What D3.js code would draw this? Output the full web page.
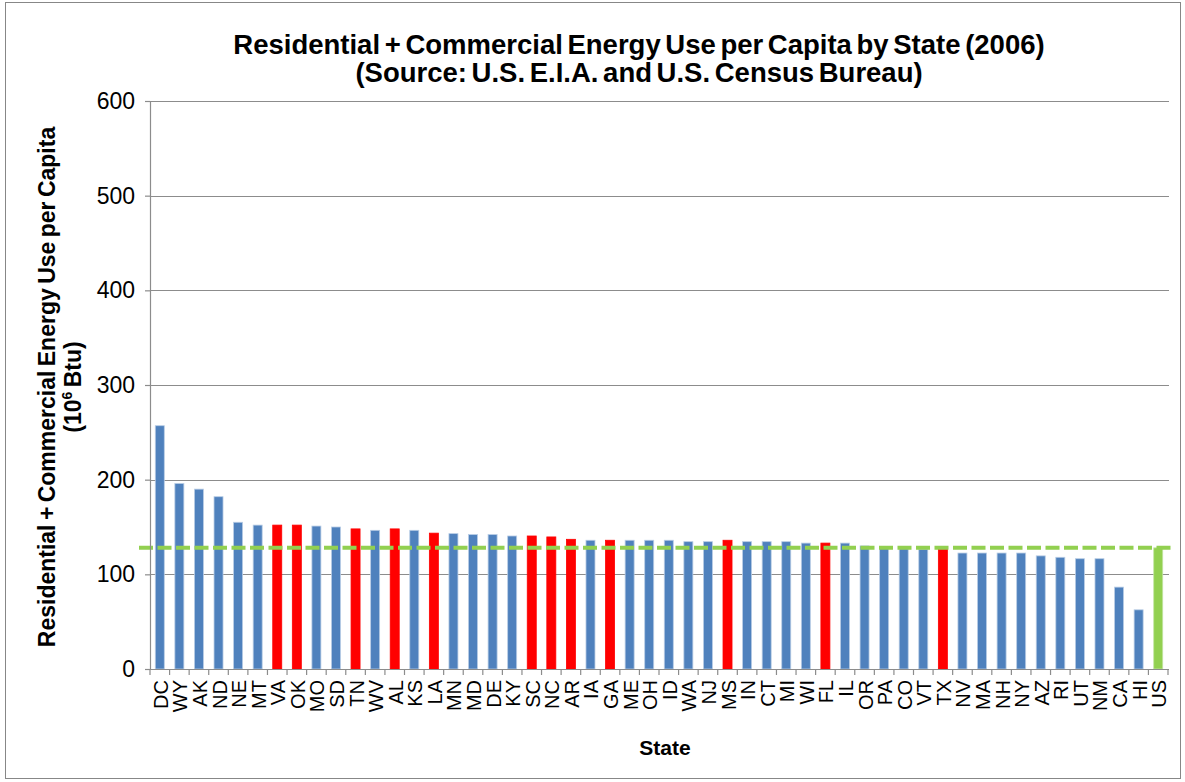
<!DOCTYPE html>
<html>
<head>
<meta charset="utf-8">
<script src="https://cdn.jsdelivr.net/npm/d3@7"></script>
<style>
  body { margin: 0; background: #fff; }
  text { font-family: Arial, "Liberation Sans", sans-serif; }
</style>
</head>
<body>
<svg id="chart" width="1185" height="782"></svg>
<script>
// states, sorted as in the source chart
var states = ["DC","WY","AK","ND","NE","MT","VA","OK","MO","SD","TN","WV","AL","KS","LA","MN","MD","DE",
  "KY","SC","NC","AR","IA","GA","ME","OH","ID","WA","NJ","MS","IN","CT","MI","WI","FL","IL","OR","PA",
  "CO","VT","TX","NV","MA","NH","NY","AZ","RI","UT","NM","CA","HI","US"];
// energy use per capita, 10^6 Btu
var values = [257,196,190,182,155,152,152,152,151,150,148,146.5,148,146.5,143.5,143,142,142,
  140.5,140.5,139.5,137,136,136,136,136,136,134.5,134.5,136,134.5,134.5,134.5,133,133,133,130,128.5,
  127,126.5,126.5,122.5,122.5,122.5,122.5,119.5,118,116.5,116.5,86.5,62.5,128];
var redStates = ["VA","OK","TN","AL","LA","SC","NC","AR","GA","MS","FL","TX"];
var usAverage = 128;
var yTicks = [0,100,200,300,400,500,600];

var margin = { top: 101, right: 17, bottom: 113, left: 150 },
    W = 1185, H = 782,
    width = W - margin.left - margin.right,
    height = H - margin.top - margin.bottom;

var svg = d3.select("#chart");

// outer frame
svg.append("rect")
  .attr("x", 5.5).attr("y", 2.5)
  .attr("width", 1175).attr("height", 776)
  .attr("fill", "none").attr("stroke", "#878787").attr("stroke-width", 1);

var g = svg.append("g").attr("transform", "translate(" + margin.left + "," + margin.top + ")");

var x = d3.scaleBand().domain(states).range([0, width]).paddingInner(0.54).paddingOuter(0.27);
var y = d3.scaleLinear().domain([0, 600]).range([height, 0]);

// gridlines
g.selectAll(".grid").data(yTicks.slice(1)).enter().append("line")
  .attr("x1", 0).attr("x2", width + 1)
  .attr("y1", function (d) { return Math.round(y(d)) + 0.5; })
  .attr("y2", function (d) { return Math.round(y(d)) + 0.5; })
  .attr("stroke", "#8c8c8c").attr("stroke-width", 1.2);

// bars
g.selectAll(".bar").data(states).enter().append("rect")
  .attr("x", function (d) { return x(d); })
  .attr("width", x.bandwidth())
  .attr("y", function (d, i) { return y(values[i]); })
  .attr("height", function (d, i) { return height - y(values[i]); })
  .attr("fill", function (d) {
    if (d == "US") return "#92d050";
    return redStates.indexOf(d) >= 0 ? "#ff0000" : "#4f81bd";
  })
  .attr("stroke", function (d) {
    if (d == "US") return "#c4e5a4";
    return redStates.indexOf(d) >= 0 ? "#ff0000" : "#b9cde5";
  })
  .attr("stroke-width", 0.8);

// US average line
g.append("line")
  .attr("x1", -11).attr("x2", width + 5)
  .attr("y1", y(usAverage)).attr("y2", y(usAverage))
  .attr("stroke", "#92d050").attr("stroke-width", 4)
  .attr("stroke-dasharray", "14,4.5");

// y axis
var yAxis = d3.axisLeft(y).tickValues(yTicks).tickSize(5).tickPadding(10);
var ya = g.append("g").call(yAxis);
ya.select(".domain").attr("stroke", "#8c8c8c").attr("stroke-width", 1.2);
ya.selectAll(".tick line").attr("stroke", "#8c8c8c").attr("stroke-width", 1.2);
ya.selectAll(".tick text").attr("font-size", 23).attr("fill", "#000")
  .attr("font-family", "Arial, 'Liberation Sans', sans-serif");

// x axis: baseline, ticks between categories
var xa = g.append("g").attr("transform", "translate(0," + height + ")");
xa.append("line").attr("x1", 0).attr("x2", width + 1).attr("y1", 0.5).attr("y2", 0.5)
  .attr("stroke", "#8c8c8c").attr("stroke-width", 1.2);
var step = x.step();
var bounds = d3.range(states.length + 1).map(function (i) { return x(states[0]) - (step - x.bandwidth()) / 2 + i * step; });
xa.selectAll(".xt").data(bounds).enter().append("line")
  .attr("x1", function (d) { return d; }).attr("x2", function (d) { return d; })
  .attr("y1", 0).attr("y2", 6)
  .attr("stroke", "#8c8c8c").attr("stroke-width", 1.2);
xa.selectAll(".xl").data(states).enter().append("text")
  .attr("transform", function (d) {
    return "translate(" + (x(d) + x.bandwidth() / 2 + 8) + ",11) rotate(-90)";
  })
  .attr("text-anchor", "end")
  .attr("font-size", 20)
  .attr("fill", "#000")
  .text(function (d) { return d; });

// axis titles
svg.append("text")
  .attr("x", 665).attr("y", 755)
  .attr("text-anchor", "middle").attr("font-size", 21).attr("font-weight", "bold")
  .text("State");

var yt = svg.append("text")
  .attr("transform", "translate(0,387) rotate(-90)")
  .attr("text-anchor", "middle").attr("font-size", 23).attr("font-weight", "bold")
  .attr("word-spacing", -2);
yt.append("tspan").attr("x", 0).attr("y", 55).text("Residential + Commercial Energy Use per Capita");
var t2 = yt.append("tspan").attr("x", 0).attr("y", 81).text("(10");
t2.append("tspan").attr("font-size", 14).attr("dy", -9).text("6");
t2.append("tspan").attr("dy", 9).text(" Btu)");

// title
var title = svg.append("text")
  .attr("text-anchor", "middle").attr("font-size", 27.5).attr("font-weight", "bold")
  .attr("word-spacing", -3);
title.append("tspan").attr("x", 639).attr("y", 54)
  .text("Residential + Commercial Energy Use per Capita by State (2006)");
title.append("tspan").attr("x", 639).attr("y", 82)
  .text("(Source: U.S. E.I.A. and U.S. Census Bureau)");
</script>
</body>
</html>
